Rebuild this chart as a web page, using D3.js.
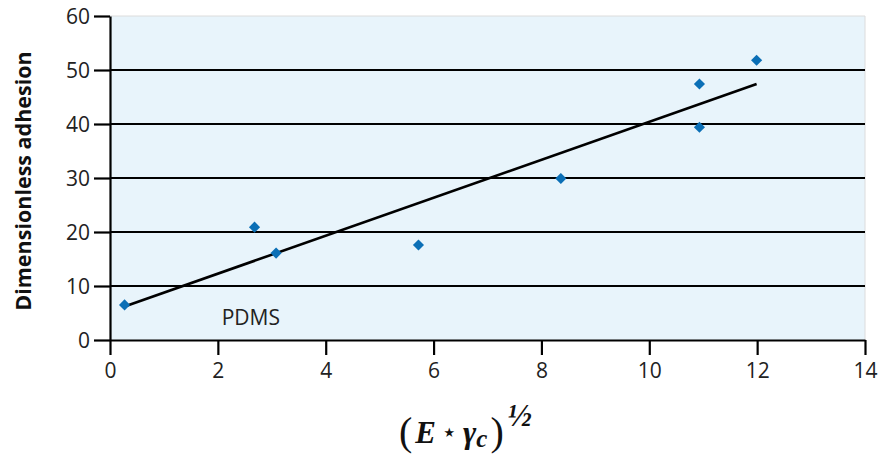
<!DOCTYPE html>
<html>
<head>
<meta charset="utf-8">
<script src="https://cdn.jsdelivr.net/npm/d3@7"></script>
<style>
  body { margin: 0; background: #fff; }
  svg text { font-family: "Open Sans", sans-serif; }
</style>
</head>
<body>
<div id="chart"></div>
<script>
// measured points (E*gamma)^1/2 vs dimensionless adhesion
var xValues = [0.27, 2.68, 3.08, 5.72, 8.36, 10.93, 10.93, 11.99];
var yValues = [6.5, 20.9, 16.1, 17.6, 29.9, 47.4, 39.4, 51.8];
// fitted line end points
var fitX = [0.27, 11.99];
var fitY = [6.2, 47.4];
var xTicks = [0, 2, 4, 6, 8, 10, 12, 14];
var yTicks = [0, 10, 20, 30, 40, 50, 60];

var width = 893, height = 455;
var marginLeft = 110, marginRight = 28, marginTop = 16, marginBottom = 115;

var x = d3.scaleLinear().domain([0, 14]).range([marginLeft, width - marginRight]);
var y = d3.scaleLinear().domain([0, 60]).range([height - marginBottom, marginTop]);

var svg = d3.select("#chart").append("svg")
    .attr("width", width)
    .attr("height", height);

// plot background
svg.append("rect")
    .attr("x", x(0))
    .attr("y", y(60))
    .attr("width", x(14) - x(0))
    .attr("height", y(0) - y(60))
    .attr("fill", "#e8f4fb");

// faint border top/right
svg.append("polyline")
    .attr("points", [[x(0), y(60)], [x(14), y(60)], [x(14), y(0)]].map(function(p){ return p.join(); }).join(" "))
    .attr("fill", "none")
    .attr("stroke", "#dcdcdc")
    .attr("stroke-width", 1);

// gridlines
svg.selectAll(".grid")
    .data(yTicks.filter(function(d){ return d > 0 && d < 60; }))
    .enter().append("line")
    .attr("class", "grid")
    .attr("x1", x(0))
    .attr("x2", x(14))
    .attr("y1", function(d){ return y(d); })
    .attr("y2", function(d){ return y(d); })
    .attr("stroke", "#000")
    .attr("stroke-width", 2);

var xAxis = svg.append("g")
    .attr("transform", "translate(0," + y(0) + ")")
    .call(d3.axisBottom(x).tickValues(xTicks).tickSize(15).tickPadding(8).tickSizeOuter(0));

var yAxis = svg.append("g")
    .attr("transform", "translate(" + x(0) + ",0)")
    .call(d3.axisLeft(y).tickValues(yTicks).tickSize(16).tickPadding(4).tickSizeOuter(0));

[xAxis, yAxis].forEach(function(a){
    a.select(".domain").attr("stroke", "#000").attr("stroke-width", 2.2);
    a.selectAll(".tick line").attr("stroke", "#000").attr("stroke-width", 2.2);
    a.selectAll(".tick text")
        .attr("font-family", "'Open Sans', sans-serif")
        .attr("font-size", 21)
        .attr("fill", "#222");
});
yAxis.selectAll(".tick text").attr("dy", "0.36em");

// fitted line
svg.append("line")
    .attr("x1", x(fitX[0]))
    .attr("y1", y(fitY[0]))
    .attr("x2", x(fitX[1]))
    .attr("y2", y(fitY[1]))
    .attr("stroke", "#000")
    .attr("stroke-width", 2.6);

// diamonds
svg.selectAll(".pt")
    .data(xValues.map(function(d, i){ return [d, yValues[i]]; }))
    .enter().append("path")
    .attr("class", "pt")
    .attr("d", d3.symbol(d3.symbolSquare, 62))
    .attr("fill", "#0b6fb6")
    .attr("transform", function(d){ return "translate(" + x(d[0]) + "," + y(d[1]) + ") rotate(45)"; });

// series label
svg.append("text")
    .attr("x", x(2.07))
    .attr("y", y(2.7))
    .attr("font-size", 21)
    .attr("fill", "#222")
    .text("PDMS");

// y axis title
svg.append("text")
    .attr("transform", "translate(31," + ((y(0) + y(60)) / 2 + 3) + ") rotate(-90)")
    .attr("text-anchor", "middle")
    .attr("font-size", 21.5)
    .attr("font-weight", "bold")
    .attr("fill", "#111")
    .text("Dimensionless adhesion");

// x axis title: (E * gamma_c)^1/2
var xt = svg.append("text")
    .attr("x", 399)
    .attr("y", 445)
    .style("font-family", "'Liberation Serif', 'DejaVu Serif', serif")
    .attr("font-weight", "bold")
    .attr("fill", "#111");
xt.append("tspan").attr("font-size", 40).attr("font-weight", "normal").text("(");
xt.append("tspan").attr("font-size", 31).attr("font-style", "italic").attr("dx", 3).attr("dy", -2).text("E");
xt.append("tspan").attr("font-size", 20).attr("dy", -4).attr("dx", 7).text("\u22C6");
xt.append("tspan").attr("font-size", 32).attr("font-style", "italic").attr("dy", 4).attr("dx", 7).text("\u03B3");
xt.append("tspan").attr("font-size", 25).attr("font-style", "italic").attr("dy", 4).text("c");
xt.append("tspan").attr("font-size", 40).attr("font-weight", "normal").attr("dx", 3).attr("dy", -2).text(")");
xt.append("tspan").attr("font-size", 32).attr("font-style", "italic").attr("dx", 4).attr("dy", -19).text("\u00BD");
</script>
</body>
</html>
